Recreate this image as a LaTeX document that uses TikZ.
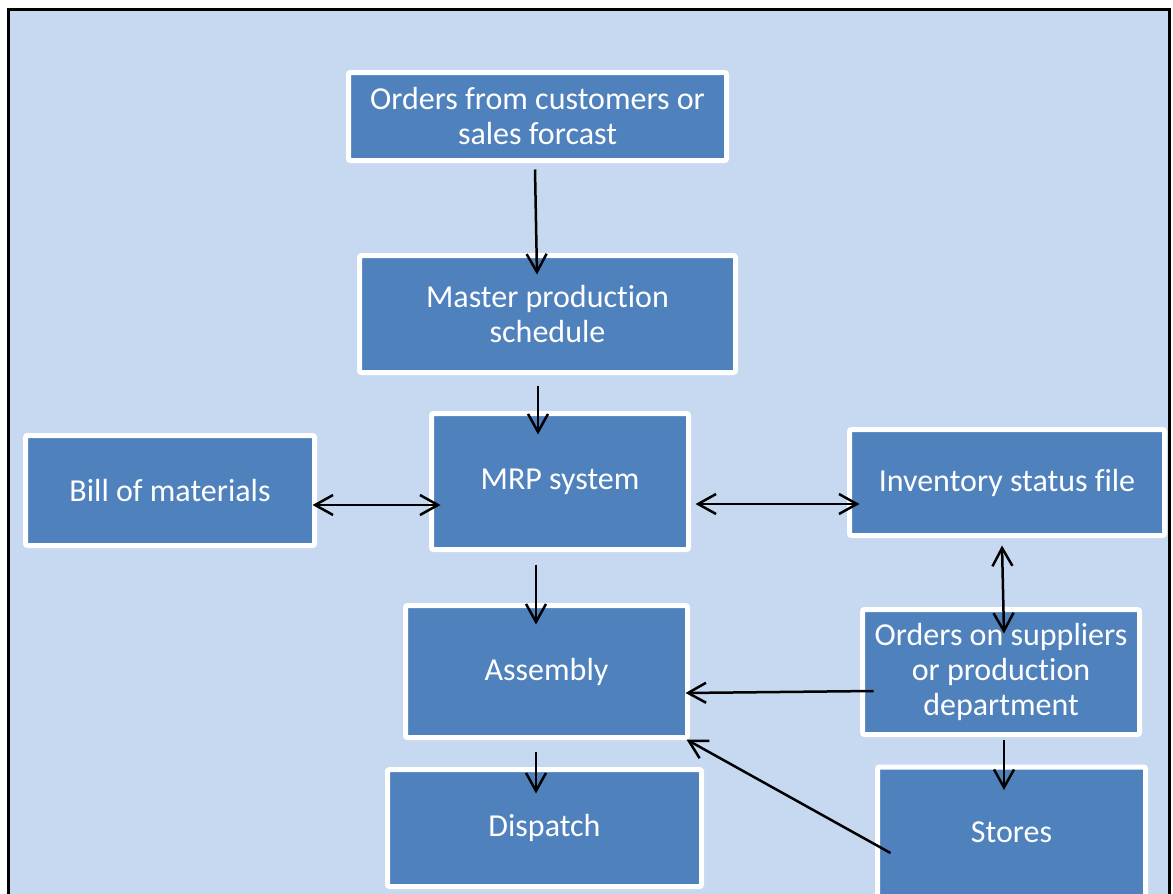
\documentclass[tikz,border=0pt]{standalone}
\usepackage{fontspec}
\setmainfont{Carlito}[Ligatures=NoCommon]
\usetikzlibrary{arrows.meta,calc}
\definecolor{bgblue}{HTML}{C6D9F0}
\definecolor{boxblue}{HTML}{4F81BD}
\tikzset{
    block/.style={
      rectangle,
      rounded corners=2pt,
      draw=white, line width=5pt,
      fill=boxblue,
      text=white,
      align=center,
      inner sep=0pt,
      font=\fontsize{32}{35}\selectfont,
    },
}
\begin{document}
\begin{tikzpicture}[x=1pt,y=-1pt,->,>={Straight Barb[length=18pt,width=20pt]},line width=2.5pt]

    \useasboundingbox (0,0) rectangle (1173,894);
    \draw[fill=bgblue,line width=3pt] (8,9) rectangle (1169.5,920);

    \node[block,minimum width=378pt,minimum height=88pt] (orders) at (537.5,116.5)
    {Orders from customers or\\sales forcast};

    \node[block,minimum width=376pt,minimum height=117pt] (master) at (547.5,314)
    {Master production\\schedule};

    \node[block,minimum width=257pt,minimum height=136pt] (mrp) at (560,481.5)
    {MRP system};

    \node[block,minimum width=289pt,minimum height=110pt] (bom) at (170,490.5)
    {Bill of materials};

    \node[block,minimum width=315pt,minimum height=106pt] (inventory) at (1007,482.5)
    {Inventory status file};

    \node[block,minimum width=277pt,minimum height=125pt] (suppliers) at (1001,672)
    {Orders on suppliers\\or production\\department};

    \node[block,minimum width=282pt,minimum height=132pt] (assembly) at (546.5,671.5)
    {Assembly};

    \node[block,minimum width=314pt,minimum height=117pt] (dispatch) at (544.5,828)
    {Dispatch};

    \node[block,minimum width=268pt,minimum height=130pt] (stores) at (1011.5,832)
    {Stores};

    \path

    ($(orders.south)+(-2.5,6.5)$) edge ($(master.north)+(-10.5,21.5)$)

    ($(master.south)+(-9.5,10.5)$) edge ($(mrp.north)+(-22,23.5)$)

    ($(bom.east)+(-4.5,14.5)$) edge[<->] ($(mrp.west)+(11.5,23.5)$)

    ($(mrp.east)+(4.5,22.5)$) edge[<->] ($(inventory.west)+(12.5,21.5)$)

    ($(inventory.south)+(-5,7.5)$) edge[<->] ($(suppliers.north)+(3,26.5)$)

    ($(mrp.south)+(-24,12.5)$) edge ($(assembly.north)+(-10.5,21.5)$)

    ($(suppliers.west)+(13.5,19)$) edge ($(assembly.east)+(-4.5,21.5)$)

    ($(stores.west)+(15.5,21)$) edge ($(assembly.south east)+(-3.5,-0.5)$)

    ($(suppliers.south)+(3,2.5)$) edge ($(stores.north)+(-7.5,25.5)$)

    ($(assembly.south)+(-10.5,11.5)$) edge ($(dispatch.north)+(-8.5,26.5)$)

    ;
\end{tikzpicture}
\end{document}
